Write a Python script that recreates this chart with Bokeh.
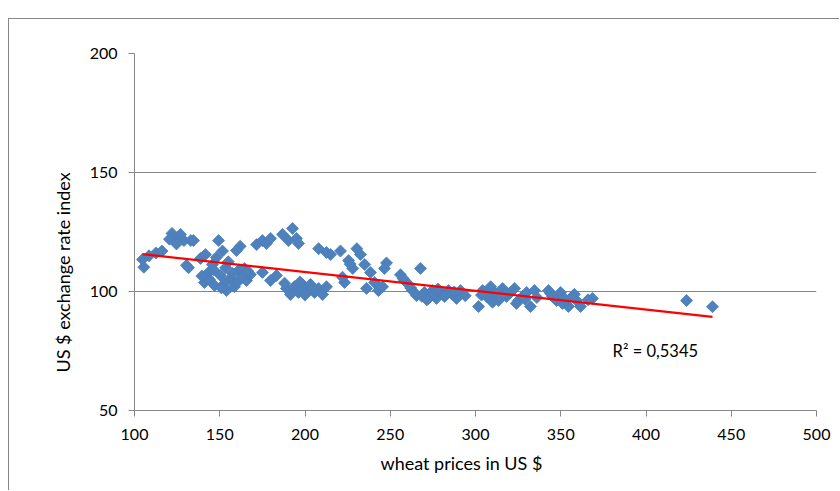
import numpy as np
from bokeh.plotting import figure
from bokeh.models import ColumnDataSource, FixedTicker, Label, Title
from bokeh.embed import file_html
from bokeh.resources import INLINE

# wheat price (US $) and US $ exchange rate index
wheat_price = [
    104.7, 105.5, 108.5, 112.6, 116.1,
    122.0, 125.8, 129.0, 133.0, 124.6, 130.5, 131.7, 134.6, 127.0, 120.5,
    138.7, 141.6, 141.0, 143.4, 145.7, 148.0, 149.3, 151.6, 150.4, 152.8,
    154.0, 156.3, 158.6, 161.0, 162.0, 164.5, 165.7, 168.0, 159.8, 157.5,
    144.0, 146.5, 139.5, 153.5, 155.0, 160.5, 163.0, 147.0, 151.0, 166.5,
    171.6, 175.0, 177.4, 179.8, 175.0, 179.8, 183.3, 186.8, 190.3, 192.7,
    195.0, 196.2, 189.1, 191.5, 193.8, 196.2, 198.5, 200.9, 203.2, 205.6,
    208.0, 210.3, 212.6, 208.0, 212.6, 215.0, 188.0, 200.0, 204.5, 197.0,
    220.8, 223.2, 225.6, 228.0, 230.4, 232.5, 235.0, 236.1, 238.4, 240.8,
    243.1, 245.5, 247.8, 246.6, 222.0, 226.5,
    256.0, 258.4, 260.7, 263.0, 265.4, 267.7, 270.0, 272.4, 274.8, 277.1,
    279.5, 281.8, 284.2, 286.5, 288.9, 291.2, 257.5, 262.0, 268.5, 271.5,
    275.5, 278.0, 282.5, 287.5, 294.0,
    301.8, 304.2, 306.5, 308.9, 311.2, 313.5, 315.9, 318.2, 320.5, 322.9,
    325.2, 327.6, 330.0, 332.2, 334.6, 342.8, 345.2, 347.5, 349.9, 352.2,
    354.5, 356.9, 359.2, 361.6, 368.6, 303.5, 310.0, 317.0, 324.0, 329.0,
    336.0, 344.0, 351.0, 358.0, 366.0,
    423.8, 439.0,
]
exchange_index = [
    113.4, 110.2, 115.0, 116.2, 117.0,
    124.4, 123.0, 121.4, 121.4, 120.0, 111.0, 110.0, 121.4, 124.0, 122.0,
    113.9, 115.5, 103.8, 108.0, 111.3, 114.3, 121.4, 117.0, 106.7, 103.4,
    100.4, 105.5, 102.0, 108.8, 119.0, 109.7, 104.6, 107.1, 117.2, 107.6,
    105.0, 109.0, 106.5, 110.0, 112.5, 104.0, 106.0, 102.5, 101.5, 108.5,
    119.7, 121.4, 120.2, 122.3, 108.0, 104.6, 106.7, 124.0, 121.4, 126.5,
    122.3, 120.2, 101.3, 98.7, 102.0, 99.6, 103.0, 100.4, 103.0, 99.6,
    101.3, 98.7, 102.0, 118.0, 116.4, 115.5, 103.5, 98.5, 101.0, 104.0,
    117.0, 103.8, 113.0, 109.7, 118.0, 115.5, 111.3, 101.3, 108.0, 103.8,
    100.4, 102.0, 112.0, 109.7, 106.0, 111.5,
    107.0, 104.6, 103.0, 100.4, 98.3, 109.7, 99.6, 97.1, 100.4, 97.1,
    99.6, 97.9, 100.4, 98.7, 97.1, 100.4, 105.5, 101.5, 98.0, 96.5,
    99.0, 101.0, 98.5, 99.8, 98.2,
    93.7, 100.4, 97.9, 102.0, 99.6, 96.2, 101.3, 97.9, 99.6, 101.3,
    96.2, 97.9, 99.6, 93.7, 100.4, 100.4, 97.9, 96.2, 99.6, 97.1,
    93.7, 97.9, 96.2, 93.7, 97.1, 98.5, 95.5, 99.0, 95.0, 96.8,
    97.5, 99.2, 95.0, 98.8, 96.5,
    96.2, 93.6,
]

x_ticks = [100, 150, 200, 250, 300, 350, 400, 450, 500]
y_ticks = [50, 100, 150, 200]
r2_text = "R² = 0,5345"
x_title = "wheat prices in US $"
y_title = "US $ exchange rate index"

xs = np.array(wheat_price)
ys = np.array(exchange_index)
slope, intercept = np.polyfit(xs, ys, 1)
trend_x = [float(xs.min()), float(xs.max())]
trend_y = [intercept + slope * v for v in trend_x]

FONT = "Lato"
GRID = "#868686"

p = figure(width=831, height=472, output_backend="svg", toolbar_location=None,
           x_range=(100, 500), y_range=(50, 200),
           min_border_left=125, min_border_right=24, min_border_top=34, min_border_bottom=81,
           styles={"margin-left": "8px", "margin-top": "18px",
                   "border-left": "1px solid #868686", "border-top": "1px solid #868686"})
p.outline_line_color = None
p.background_fill_color = "white"
p.border_fill_color = "white"

p.xgrid.grid_line_color = None
p.ygrid.grid_line_color = GRID
p.ygrid.grid_line_width = 1

for ax in (p.xaxis[0], p.yaxis[0]):
    ax.axis_line_color = GRID
    ax.major_tick_line_color = GRID
    ax.major_tick_in = 0
    ax.major_tick_out = 6
    ax.minor_tick_line_color = None
    ax.major_label_text_font = FONT
    ax.major_label_text_font_size = "16px"
    ax.major_label_text_color = "#000000"

p.xaxis.ticker = FixedTicker(ticks=x_ticks)
p.yaxis.ticker = FixedTicker(ticks=y_ticks)
p.xaxis.major_label_standoff = 12
p.yaxis.major_label_standoff = 11

src = ColumnDataSource(dict(x=wheat_price, y=exchange_index))
p.scatter("x", "y", source=src, marker="square", angle=np.pi / 4, size=8.5,
          fill_color="#4F81BD", line_color="#4A7EBB", line_width=0.8)

p.line(trend_x, trend_y, line_color="#FF0000", line_width=2.2)

p.add_layout(Label(x=380.4, y=74.8, text=r2_text, text_font=FONT,
                   text_font_size="16.5px", text_color="#000000",
                   text_align="left", text_baseline="middle"))

p.add_layout(Title(text=x_title, align="left", offset=246, standoff=14,
                   text_font=FONT, text_font_size="18px", text_font_style="normal",
                   text_color="#000000"), "below")
p.add_layout(Title(text=y_title, align="left", offset=38, standoff=26,
                   text_font=FONT, text_font_size="18px", text_font_style="normal",
                   text_color="#000000"), "left")

open("out.html", "w").write(file_html(p, INLINE))
